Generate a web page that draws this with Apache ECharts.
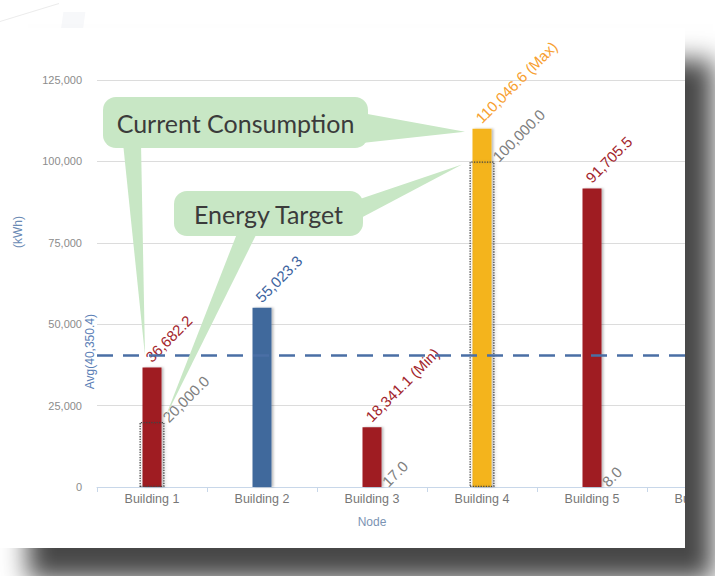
<!DOCTYPE html>
<html><head><meta charset="utf-8">
<script src="https://cdn.jsdelivr.net/npm/echarts@6/dist/echarts.min.js"></script>
<style>
html,body{margin:0;padding:0;background:#fff;width:715px;height:576px;overflow:hidden;position:relative;}
#deco1{position:absolute;left:-10px;top:24px;width:72px;height:1px;background:#ececec;transform:rotate(-17deg);transform-origin:0 0;}
#deco2{position:absolute;left:62px;top:12px;width:22px;height:20px;background:#f7f8fa;transform:skewX(-8deg);}
#panel{position:absolute;left:0;top:28px;width:685px;height:520px;background:#fff;box-shadow:28px 32px 24px rgba(0,0,0,0.72);overflow:hidden;}
#chart{width:770px;height:520px;}
</style></head><body>
<div id="deco1"></div><div id="deco2"></div>
<div id="panel"><div id="chart"></div></div>
<script>
const categories = ['Building 1','Building 2','Building 3','Building 4','Building 5','Building 6'];
const consumption = [36682.2, 55023.3, 18341.1, 110046.6, 91705.5, null];
const target = [20000, null, 17, 100000, 8, null];
const average = 40350.4;
const yMin = 0, yMax = 125000, yStep = 25000;

const barColors = ['#9f1c22','#41699c','#9f1c22','#f4b41a','#9f1c22','#9f1c22'];
const labelColors = ['#a3262c','#3d64a0','#a3262c','#f7a030','#a3262c','#a3262c'];

const fmt1 = v => Number(v).toLocaleString('en-US',{minimumFractionDigits:1,maximumFractionDigits:1});
const valid = consumption.filter(v => v != null);
const maxV = Math.max(...valid), minV = Math.min(...valid);

const chart = echarts.init(document.getElementById('chart'), null, {renderer:'svg'});
const base = {
  animation:false,
  textStyle:{fontFamily:'Arial'},
  grid:{left:97, top:52, width:660, height:407},
  xAxis:[{
    type:'category', data:categories,
    axisLine:{lineStyle:{color:'#c8d7e9', width:1}},
    axisTick:{show:true, length:5, interval:0, lineStyle:{color:'#c8d7e9'}},
    axisLabel:{color:'#777', fontSize:12.5, margin:5, interval:0},
    splitLine:{show:false}
  },{
    type:'category', data:categories, show:false
  }],
  yAxis:{
    type:'value', min:yMin, max:yMax, interval:yStep,
    axisLine:{show:false}, axisTick:{show:false},
    axisLabel:{color:'#8c8c8c', fontSize:11, margin:15, formatter:v => v.toLocaleString('en-US')},
    splitLine:{lineStyle:{color:'#dcdcdc', width:1.2}}
  },
  series:[{
    name:'Current Consumption', type:'bar', xAxisIndex:0, barWidth:19, z:2,
    data: consumption.map((v,i)=>({value:v, itemStyle:{color:barColors[i]}, label:{color:labelColors[i]}})),
    itemStyle:{shadowColor:'rgba(0,0,0,0.25)', shadowBlur:2, shadowOffsetX:2},
    label:{show:true, position:[11,-3], rotate:45, align:'left', verticalAlign:'bottom', fontSize:15,
      formatter:p => p.value == null ? '' : fmt1(p.value) + (p.value === maxV ? ' (Max)' : p.value === minV ? ' (Min)' : '')},
    markLine:{silent:true, symbol:['none','none'], label:{show:false},
      lineStyle:{color:'#4a6fa5', width:2.5, type:[16,10]},
      data:[{yAxis:average}]}
  },{
    name:'Energy Target', type:'bar', xAxisIndex:1, barWidth:25, z:3,
    data: target,
    itemStyle:{color:'rgba(0,0,0,0)', borderColor:'#444', borderWidth:1.3, borderType:'dotted',
      shadowColor:'rgba(0,0,0,0.2)', shadowBlur:2, shadowOffsetX:1.5},
    label:{show:true, position:[31,3], rotate:45, align:'left', verticalAlign:'bottom', fontSize:15, color:'#808080',
      formatter:p => p.value == null ? '' : fmt1(p.value)}
  }]
};
chart.setOption(base);

const px = (i, v) => chart.convertToPixel({xAxisIndex:0, yAxisIndex:0}, [i, v]);
const p1 = px(0, consumption[0]);
const p4 = px(3, consumption[3]);
const t1 = px(0, target[0]);
const t4 = px(3, target[3]);
const avgY = px(0, average)[1];
const gridLeft = 97;
const green = '#c8e7c5';
const bubbleFont = {fontFamily:'Lato', fontSize:25, fill:'#3b3b3b', align:'center', verticalAlign:'middle'};

chart.setOption({graphic:[
  {type:'polygon', z:50, shape:{points:[[123,115],[141,115],[p1[0]-7, p1[1]-12]]}, style:{fill:green}},
  {type:'polygon', z:50, shape:{points:[[362,85],[362,115],[p4[0]-17, p4[1]+3]]}, style:{fill:green}},
  {type:'rect', z:51, shape:{x:103, y:69, width:265, height:51, r:13}, style:{fill:green}},
  {type:'text', z:52, x:235.5, y:95, style:Object.assign({text:'Current Consumption'}, bubbleFont)},
  {type:'polygon', z:50, shape:{points:[[357,172],[357,192],[t4[0]-20, t4[1]+3]]}, style:{fill:green}},
  {type:'polygon', z:50, shape:{points:[[238,203],[258,203],[t1[0]+13, t1[1]-4]]}, style:{fill:green}},
  {type:'rect', z:51, shape:{x:174, y:163, width:189, height:45, r:13}, style:{fill:green}},
  {type:'text', z:52, x:268.5, y:186, style:Object.assign({text:'Energy Target'}, bubbleFont)},
  {type:'text', z:40, x:gridLeft-7, y:avgY-4, rotation:Math.PI/2,
    style:{text:'Avg(' + fmt1(average) + ')', fontFamily:'Arial', fontSize:12, fill:'#5b80b6', align:'center', verticalAlign:'middle'}},
  {type:'text', z:40, x:18, y:204, rotation:Math.PI/2,
    style:{text:'(kWh)', fontFamily:'Arial', fontSize:12, fill:'#6a8ab4', align:'center', verticalAlign:'middle'}},
  {type:'text', z:40, x:372, y:494,
    style:{text:'Node', fontFamily:'Arial', fontSize:12, fill:'#7b93b3', align:'center', verticalAlign:'middle'}}
]});
</script>
</body></html>
